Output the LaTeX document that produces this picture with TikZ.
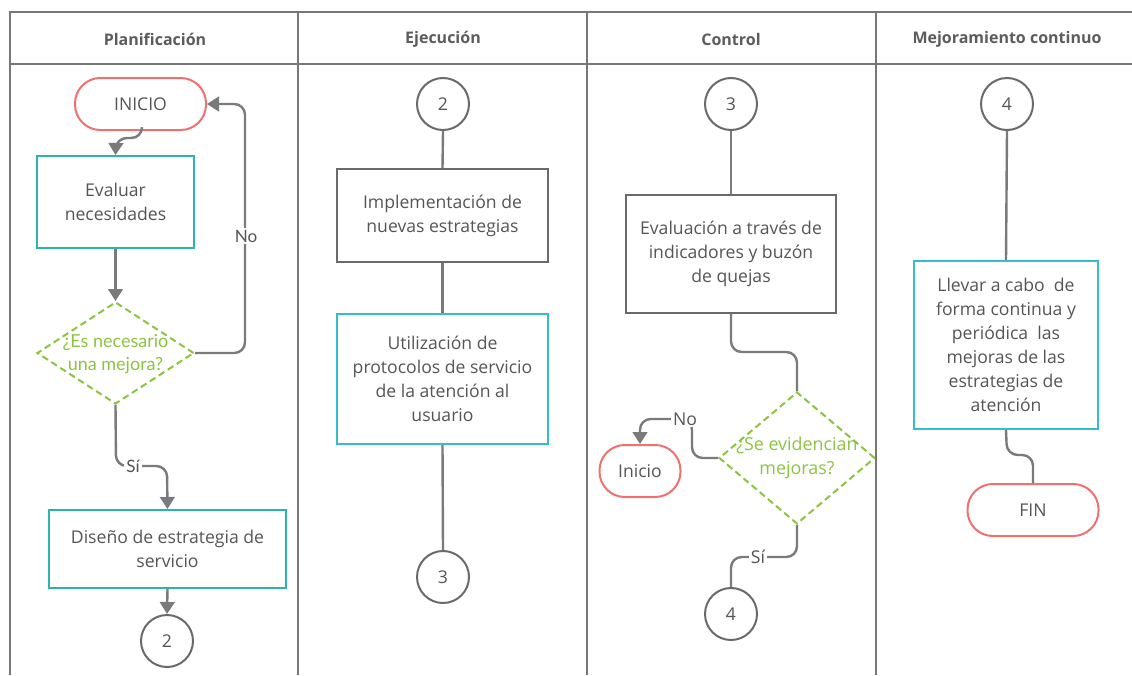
\documentclass[tikz,border=0pt]{standalone}
\usepackage{fontspec}
\setmainfont{Open Sans}
\newfontfamily\lato{Lato}
\usetikzlibrary{shapes.geometric,arrows.meta}
\definecolor{frame}{HTML}{777777}
\definecolor{conn}{HTML}{7A7A7A}
\definecolor{txt}{HTML}{555555}
\definecolor{hdrc}{HTML}{5C5C5C}
\definecolor{redT}{HTML}{F07070}
\definecolor{tealB}{HTML}{2BB3AE}
\definecolor{cyanB}{HTML}{35BDCC}
\definecolor{greenD}{HTML}{8CC440}
\definecolor{grayB}{HTML}{6A6A6A}
\tikzset{
  lane/.style={draw=frame, line width=1.6pt},
  hdr/.style={font=\fontsize{12}{14}\selectfont\bfseries, text=hdrc},
  body/.style={font=\fontsize{13.2}{18}\selectfont, text=txt, align=center},
  term/.style={draw=redT, line width=1.5pt, rounded corners=19pt, minimum height=39pt, inner sep=0pt, body, fill=white},
  boxT/.style={draw=tealB, line width=1.5pt, inner sep=0pt, body, fill=white},
  boxC/.style={draw=cyanB, line width=1.5pt, inner sep=0pt, body, fill=white},
  boxG/.style={draw=grayB, line width=1.5pt, inner sep=0pt, body, fill=white},
  dec/.style={diamond, draw=greenD, dashed, dash pattern=on 5pt off 3pt, line width=1.5pt, inner sep=0pt, fill=white},
  dtext/.style={font=\fontsize{13.4}{17.5}\selectfont, text=greenD, align=center},
  conn/.style={draw=conn, line width=1.8pt, rounded corners=8pt},
  arr/.style={conn, -{Triangle[width=11pt,length=9pt]}},
  circ/.style={circle, draw=grayB, line width=1.5pt, minimum size=39pt, inner sep=0pt, body, fill=white},
  lbl/.style={fill=white, inner sep=1.5pt, font=\fontsize{13.2}{15}\selectfont, text=txt},
}
\begin{document}
\begin{tikzpicture}[x=0.75pt,y=-0.75pt]
\useasboundingbox (0,0) rectangle (1132,675);
% frame
\draw[lane] (10,675) -- (10,12) -- (1140,12);
\draw[lane] (10,64) -- (1140,64);
\draw[lane] (298,12) -- (298,675);
\draw[lane] (587,12) -- (587,675);
\draw[lane] (876,12) -- (876,675);
\node[hdr] (h1) at (155,39) {Planificación};
\node[hdr] (h2) at (443,39) {Ejecución};
\node[hdr] (h3) at (731,39) {Control};
\node[hdr] (h4) at (1007,39) {Mejoramiento continuo};

% Lane 1
\begin{scope}[every node/.append style={font=\lato\fontsize{12.8}{18}\selectfont}]
\node[term, minimum width=98.25pt] (ini) at (140.5,104) {INICIO};
\node[boxT, minimum width=117.75pt, minimum height=69pt] (eval) at (115.5,202) {Evaluar\\necesidades};
\node[dec, minimum width=117.75pt, minimum height=76.5pt] (d1) at (115.5,353) {};
\node[dtext, font=\lato\fontsize{13.5}{17.5}\selectfont] (d1t) at (115.5,354) {¿Es necesario\\una mejora?};
\node[boxT, minimum width=177.75pt, minimum height=58.5pt] (dis) at (167.5,549) {Diseño de estrategia de\\servicio};
\node[circ] (c2a) at (167,641) {2};
\end{scope}
\draw[arr] (142,130) -- (142,138) -- (116,138) -- (eval.north);
\draw[arr] (eval.south) -- (d1.north);
\draw[arr] (d1.east) -- (245,353) -- (245,104) -- (ini.east);
\node[lbl, font=\lato\fontsize{12.8}{15}\selectfont] (no1) at (246,236) {No};
\draw[arr] (d1.south) -- (116,466) -- (167,466) -- (dis.north);
\node[lbl, font=\lato\fontsize{12.8}{15}\selectfont] (si1) at (133,466) {Sí};
\draw[arr] (dis.south) -- (c2a.north);

% Lane 2
\node[circ] (c2b) at (443,104) {2};
\node[boxG, minimum width=158.25pt, minimum height=69.75pt] (impl) at (442.5,215.5) {Implementación de\\nuevas estrategias};
\node[boxC, minimum width=158.25pt, minimum height=97.5pt] (util) at (442.5,379) {Utilización de\\protocolos de servicio\\de la atención al\\usuario};
\node[circ] (c3a) at (443,577) {3};
\draw[conn] (c2b.south) -- (impl.north);
\draw[conn] (impl.south) -- (util.north);
\draw[conn] (util.south) -- (c3a.north);

% Lane 3
\node[circ] (c3b) at (731,104) {3};
\node[boxG, minimum width=157.5pt, minimum height=88.5pt] (evi) at (731,254) {Evaluación a través de\\indicadores y buzón\\de quejas};
\node[dec, minimum width=117pt, minimum height=99pt] (d2) at (797,458) {};
\node[dtext] (d2t) at (797,458) {¿Se evidencian\\mejoras?};
\node[term, minimum width=60.75pt] (ini2) at (640,471) {Inicio};
\node[circ] (c4a) at (731,614) {4};
\draw[conn] (c3b.south) -- (evi.north);
\draw[conn] (evi.south) -- (731,352) -- (797,352) -- (d2.north);
\draw[arr] (d2.west) -- (692,458) -- (692,419) -- (640,419) -- (ini2.north);
\node[lbl] (no2) at (685,419) {No};
\draw[conn] (d2.south) -- (797,557) -- (731,557) -- (c4a.north);
\node[lbl] (si2) at (758,557) {Sí};

% Lane 4
\node[circ] (c4b) at (1007,104) {4};
\node[boxC, minimum width=138pt, minimum height=126pt] (llev) at (1006,345) {Llevar a cabo\ \ de\\forma continua y\\periódica\ \ las\\mejoras de las\\estrategias de\\atención};
\node[term, minimum width=98.25pt] (fin) at (1033,510) {FIN};
\draw[conn] (c4b.south) -- (llev.north);
\draw[conn] (llev.south) -- (1007,455) -- (1033,455) -- (fin.north);
\end{tikzpicture}
\end{document}
